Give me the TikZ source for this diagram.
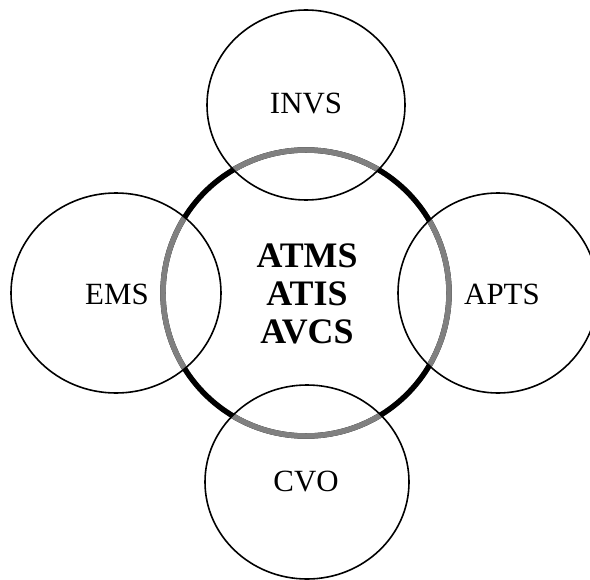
\documentclass[tikz,border=0pt]{standalone}
\usepackage{fontspec}
\setmainfont{Liberation Serif}
\usetikzlibrary{positioning}
\tikzset{
  ring/.style={line width=5.5pt},
  oval/.style={draw,line width=1.6pt},
  lbl/.style={font=\fontsize{31}{36}\selectfont,inner sep=0pt},
  core/.style={font=\bfseries\fontsize{36}{38}\selectfont,align=center,inner sep=0pt}
}
\begin{document}
\begin{tikzpicture}[x=1bp,y=-1bp]
\useasboundingbox (0,0) rectangle (590,580);
% central ring, black
\draw[ring,black] (306,293) circle[radius=143];
% grey where it lies inside the outer circles
\foreach \cx/\cy/\rx/\ry in {306/105/99/95,116/293/105/100,498/293/100/100,307/482/102/97}{
  \begin{scope}
    \clip (\cx,\cy) ellipse[x radius=\rx,y radius=\ry];
    \draw[ring,gray] (306,293) circle[radius=143];
  \end{scope}
}
% outer circles
\foreach \cx/\cy/\rx/\ry in {306/105/99/95,116/293/105/100,498/293/100/100,307/482/102/97}
  \draw[oval] (\cx,\cy) ellipse[x radius=\rx,y radius=\ry];
% labels
\node[lbl] (invs) at (306,104) {INVS};
\node[lbl] (ems) at (117,294) {EMS};
\node[lbl] (apts) at (502,294) {APTS};
\node[lbl] (cvo) at (306,482) {CVO};
\node[core] (core) at (307,294) {ATMS\\ATIS\\AVCS};
\end{tikzpicture}
\end{document}
